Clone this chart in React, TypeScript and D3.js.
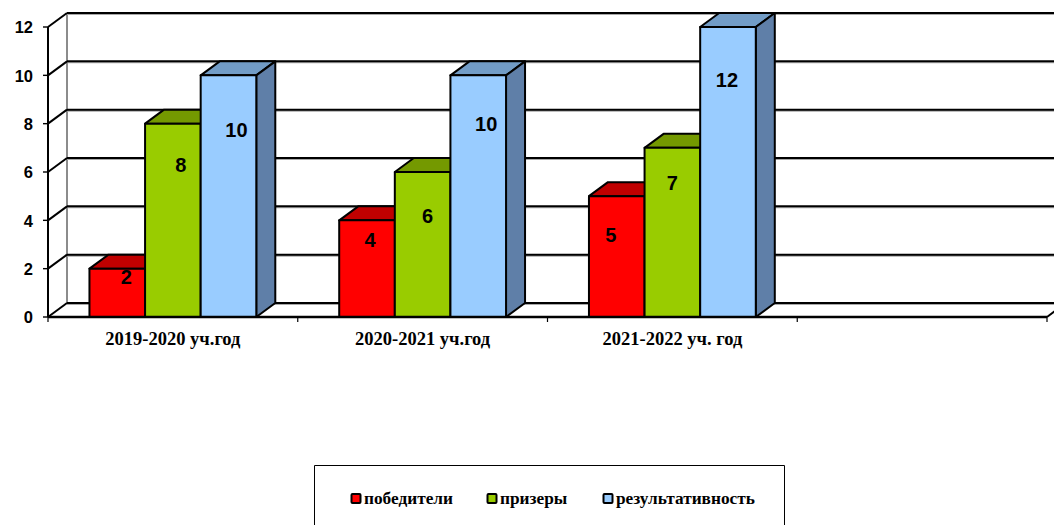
import React from 'react';
import * as d3 from 'd3';

const categories = ['2019-2020 уч.год', '2020-2021 уч.год', '2021-2022 уч. год', ''];
const seriesNames = ['победители', 'призеры', 'результативность'];
const winners = [2, 4, 5];
const prizeTakers = [8, 6, 7];
const effectiveness = [10, 10, 12];
const yTicks = [0, 2, 4, 6, 8, 10, 12];

// hand-placed data labels in the original, offsets from bar centre / bar top
const labelDx = [[9, 8, 8], [3, 5, 8], [-6, 0, -1]];
const labelDy = [[15, 48, 62], [27, 51, 56], [46, 42, 60]];

const seriesValues = [winners, prizeTakers, effectiveness];
const frontColors = ['#FF0000', '#99CC00', '#99CCFF'];
const topColors = ['#C00000', '#749900', '#729CC6'];
const sideColors = ['#A00000', '#668000', '#5F7FA8'];

const width = 1054;
const height = 525;
const depthX = 19;
const depthY = -14;

const x0 = d3.scaleBand<string>().domain(categories.map((c, i) => `${i}`)).range([48, 1047]);
const bandW = x0.bandwidth();
const x1 = d3.scaleBand<string>()
  .domain(seriesNames)
  .range([bandW * 0.166, bandW * 0.834]);
const y = d3.scaleLinear().domain([0, 12]).range([317, 27]);

const sans = '"Liberation Sans", Arial, sans-serif';
const serif = '"Liberation Serif", "Times New Roman", serif';

const pts = (p: [number, number][]) => p.map(d => d.join(',')).join(' ');

export default function App() {
  const left = x0.range()[0];
  const right = x0.range()[1];
  const tickXs = categories.map((_, i) => x0(`${i}`)!).concat(right);
  const legendX = [351, 487, 603];

  return (
    <svg
      width={width}
      height={height}
      style={{ position: 'absolute', top: 0, left: 0, display: 'block' }}
    >
      <rect width={width} height={height} fill="#fff" />

      {/* back wall and side wall */}
      <line
        x1={left + depthX} x2={left + depthX}
        y1={y(12) + depthY} y2={y(0) + depthY}
        stroke="#8c8c8c" strokeWidth={2}
      />
      {yTicks.map(t => (
        <g key={t}>
          <line
            x1={left + depthX} x2={width}
            y1={y(t) + depthY + 1.2} y2={y(t) + depthY + 1.2}
            stroke="#a8a8a8" strokeWidth={1.6}
          />
          <line
            x1={left + depthX} x2={width}
            y1={y(t) + depthY} y2={y(t) + depthY}
            stroke="#000" strokeWidth={2}
          />
          <line
            x1={left} x2={left + depthX}
            y1={y(t)} y2={y(t) + depthY}
            stroke="#000" strokeWidth={2}
          />
          <line x1={left - 5} x2={left} y1={y(t)} y2={y(t)} stroke="#000" strokeWidth={1.4} />
          <text
            x={33} y={y(t) + 0.7} dy="0.35em"
            textAnchor="end"
            fontFamily={sans} fontWeight="bold" fontSize={16.5} fill="#000"
          >
            {t}
          </text>
        </g>
      ))}
      <line x1={right} x2={right + depthX} y1={y(0)} y2={y(0) + depthY} stroke="#000" strokeWidth={2} />

      {/* bars */}
      {categories.slice(0, 3).map((c, ci) => (
        <g key={c}>
          {seriesNames.map((s, si) => {
            const value = seriesValues[si][ci];
            const xa = x0(`${ci}`)! + x1(s)!;
            const xb = xa + x1.bandwidth();
            const yt = y(value);
            const yb = y(0);
            return (
              <g key={s} stroke="#000" strokeWidth={2} strokeLinejoin="round">
                <polygon
                  points={pts([[xa, yt], [xb, yt], [xb + depthX, yt + depthY], [xa + depthX, yt + depthY]])}
                  fill={topColors[si]}
                />
                <polygon
                  points={pts([[xb, yt], [xb + depthX, yt + depthY], [xb + depthX, yb + depthY], [xb, yb]])}
                  fill={sideColors[si]}
                />
                <rect x={xa} y={yt} width={xb - xa} height={yb - yt} fill={frontColors[si]} />
              </g>
            );
          })}
        </g>
      ))}

      {/* front axes */}
      <line x1={left} x2={left} y1={y(12)} y2={y(0)} stroke="#000" strokeWidth={2} />
      <line x1={left} x2={right} y1={y(0)} y2={y(0)} stroke="#000" strokeWidth={2.4} />
      {tickXs.map(tx => (
        <line key={tx} x1={tx} x2={tx} y1={y(0)} y2={y(0) + 5} stroke="#000" strokeWidth={1.2} />
      ))}

      {/* data labels */}
      {categories.slice(0, 3).map((c, ci) =>
        seriesNames.map((s, si) => (
          <text
            key={`${c}-${s}`}
            x={x0(`${ci}`)! + x1(s)! + x1.bandwidth() / 2 + labelDx[ci][si]}
            y={y(seriesValues[si][ci]) + labelDy[ci][si]}
            textAnchor="middle"
            fontFamily={sans} fontWeight="bold" fontSize={20} fill="#000"
          >
            {seriesValues[si][ci]}
          </text>
        ))
      )}

      {/* category labels */}
      {categories.map((c, i) => (
        <text
          key={i}
          x={x0(`${i}`)! + bandW / 2}
          y={345}
          textAnchor="middle"
          fontFamily={serif} fontWeight="bold" fontSize={18.5} fill="#000"
        >
          {c}
        </text>
      ))}

      {/* legend */}
      <path d="M314.5,525 V465.5 H784.5 V525" fill="#fff" stroke="#000" strokeWidth={1} />
      {seriesNames.map((s, i) => (
        <g key={s}>
          <rect
            x={legendX[i] + 0.5} y={494} width={9} height={9} rx={1}
            fill={frontColors[i]} stroke="#000" strokeWidth={2}
          />
          <text
            x={legendX[i] + 13} y={504}
            fontFamily={serif} fontWeight="bold" fontSize={17.3} fill="#000"
          >
            {s}
          </text>
        </g>
      ))}
    </svg>
  );
}
